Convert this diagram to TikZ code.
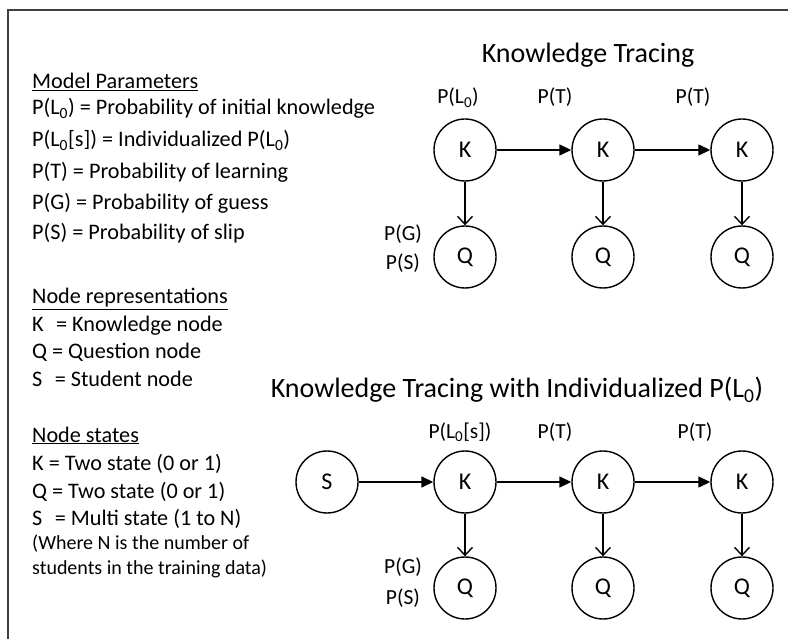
\documentclass[tikz,border=0pt]{standalone}
\usepackage{fontspec}
\setmainfont{Carlito}
\usetikzlibrary{arrows.meta}
\newcommand{\Lz}{L\textsubscript{0}}
\tikzset{
  state/.style={circle,draw,line width=1.4pt,minimum size=62pt,inner sep=0pt,font=\fontsize{24}{28}\selectfont},
  lbl/.style={anchor=base,inner sep=0pt,font=\fontsize{21.5}{24}\selectfont},
  txt/.style={anchor=base west,inner sep=0pt,font=\fontsize{22.2}{26}\selectfont},
  smalltxt/.style={anchor=base west,inner sep=0pt,font=\fontsize{20}{23}\selectfont},
  ttl/.style={anchor=base,inner sep=0pt,font=\fontsize{28}{32}\selectfont},
  trans/.style={line width=1.4pt,-{Triangle[length=12pt,width=11pt]}},
  emit/.style={line width=1.4pt,-{Straight Barb[length=8pt,width=15pt,line width=1.4pt]}},
  frame/.style={draw=black!75,line width=2pt}
}
\begin{document}
\begin{tikzpicture}[x=1pt,y=-1pt]
\useasboundingbox (0,0) rectangle (788,639);
\fill[white] (0,0) rectangle (788,639);
\draw[frame] (8,639) -- (8,10) -- (788,10);

% left legend
\node[txt] (mp) at (32,89) {\underline{Model Parameters}};
\node[txt] (p1) at (32,115) {P(\Lz) = Probability of initial knowledge};
\node[txt] (p2) at (32,147) {P(\Lz[s]) = Individualized P(\Lz)};
\node[txt] (p3) at (32,179) {P(T) = Probability of learning};
\node[txt] (p4) at (32,210) {P(G) = Probability of guess};
\node[txt] (p5) at (32,240) {P(S) = Probability of slip};

\node[txt] (nr) at (32,304) {\underline{Node representations}};
\node[txt] (n1) at (32,332) {K\,\, = Knowledge node};
\node[txt] (n2) at (32,359) {Q = Question node};
\node[txt] (n3) at (32,387) {S\,\, = Student node};

\node[txt] (ns) at (32,442) {\underline{Node states}};
\node[txt] (s1) at (32,470) {K = Two state (0 or 1)};
\node[txt] (s2) at (32,498) {Q = Two state (0 or 1)};
\node[txt] (s3) at (32,525) {S\,\, = Multi state (1 to N)};
\node[smalltxt] (s4) at (32,549) {(Where N is the number of};
\node[smalltxt] (s5) at (32,574) {students in the training data)};

% top graph
\node[ttl] (t1) at (588,63) {Knowledge Tracing};
\node[state] (k1) at (465,150) {K};
\node[state] (k2) at (603,150) {K};
\node[state] (k3) at (742,150) {K};
\node[state] (q1) at (465,257) {Q};
\node[state] (q2) at (603,257) {Q};
\node[state] (q3) at (742,257) {Q};
\draw[trans] (k1) -- (k2);
\draw[trans] (k2) -- (k3);
\draw[emit] (k1) -- (q1);
\draw[emit] (k2) -- (q2);
\draw[emit] (k3) -- (q3);
\node[lbl] (a1) at (458,104) {P(\Lz)};
\node[lbl] (a2) at (555,104) {P(T)};
\node[lbl] (a3) at (693,104) {P(T)};
\node[lbl] (a4) at (403,241) {P(G)};
\node[lbl] (a5) at (403,270) {P(S)};

% bottom graph
\node[ttl] (t2) at (517,398) {Knowledge Tracing with Individualized P(\Lz)};
\node[state] (s) at (327,482) {S};
\node[state] (m1) at (465,482) {K};
\node[state] (m2) at (603,482) {K};
\node[state] (m3) at (742,482) {K};
\node[state] (r1) at (465,588) {Q};
\node[state] (r2) at (603,588) {Q};
\node[state] (r3) at (742,588) {Q};
\draw[trans] (s) -- (m1);
\draw[trans] (m1) -- (m2);
\draw[trans] (m2) -- (m3);
\draw[emit] (m1) -- (r1);
\draw[emit] (m2) -- (r2);
\draw[emit] (m3) -- (r3);
\node[lbl] (b1) at (460,438) {P(\Lz[s])};
\node[lbl] (b2) at (555,438) {P(T)};
\node[lbl] (b3) at (695,438) {P(T)};
\node[lbl] (b4) at (403,573) {P(G)};
\node[lbl] (b5) at (403,604) {P(S)};
\end{tikzpicture}
\end{document}
